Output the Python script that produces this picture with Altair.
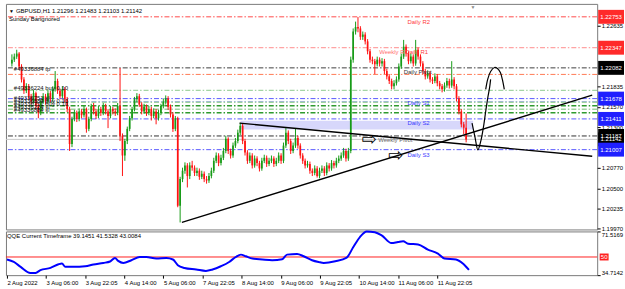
import json
import altair as alt
import pandas as pd

FONT = "Liberation Sans"

# ---------------- data: GBPUSD H1 candles (bar index 0..189) ----------------
first_open = 1.2214
close = [
    1.2219, 1.2223, 1.2227, 1.2210, 1.2193, 1.2178, 1.2184, 1.2171, 1.2164, 1.2175,
    1.2158, 1.2149, 1.2164, 1.2171, 1.2164, 1.2175, 1.2167, 1.2180, 1.2191, 1.2178,
    1.2171, 1.2180, 1.2167, 1.2154, 1.2108, 1.2141, 1.2149, 1.2141, 1.2151, 1.2146,
    1.2154, 1.2128, 1.2141, 1.2158, 1.2151, 1.2145, 1.2154, 1.2149, 1.2158, 1.2151,
    1.2145, 1.2154, 1.2151, 1.2149, 1.2158, 1.2119, 1.2093, 1.2112, 1.2128, 1.2142,
    1.2154, 1.2167, 1.2171, 1.2160, 1.2151, 1.2157, 1.2149, 1.2154, 1.2145, 1.2151,
    1.2142, 1.2149, 1.2158, 1.2164, 1.2168, 1.2157, 1.2147, 1.2128, 1.2142, 1.2027,
    1.2062, 1.2073, 1.2080, 1.2066, 1.2080, 1.2077, 1.2070, 1.2073, 1.2065, 1.2069,
    1.2062, 1.2060, 1.2066, 1.2073, 1.2086, 1.2093, 1.2083, 1.2090, 1.2099, 1.2115,
    1.2099, 1.2093, 1.2106, 1.2112, 1.2123, 1.2132, 1.2112, 1.2097, 1.2086, 1.2093,
    1.2080, 1.2089, 1.2083, 1.2076, 1.2086, 1.2090, 1.2082, 1.2086, 1.2089, 1.2082,
    1.2086, 1.2093, 1.2086, 1.2106, 1.2123, 1.2112, 1.2099, 1.2106, 1.2116, 1.2106,
    1.2093, 1.2086, 1.2080, 1.2082, 1.2073, 1.2070, 1.2076, 1.2066, 1.2073, 1.2076,
    1.2070, 1.2080, 1.2076, 1.2083, 1.2080, 1.2086, 1.2089, 1.2093, 1.2099, 1.2089,
    1.2099, 1.2219, 1.2256, 1.2262, 1.2260, 1.2249, 1.2252, 1.2243, 1.2230, 1.2219,
    1.2217, 1.2213, 1.2219, 1.2214, 1.2217, 1.2204, 1.2197, 1.2191, 1.2184, 1.2188,
    1.2193, 1.2210, 1.2223, 1.2236, 1.2227, 1.2217, 1.2223, 1.2214, 1.2232, 1.2223,
    1.2214, 1.2204, 1.2197, 1.2201, 1.2193, 1.2191, 1.2197, 1.2188, 1.2184, 1.2180,
    1.2185, 1.2191, 1.2185, 1.2193, 1.2184, 1.2168, 1.2151, 1.2134, 1.21296, 1.21142,
]
high = [
    1.2226, 1.2227, 1.2232, 1.2229, 1.2213, 1.2196, 1.2188, 1.2187, 1.2174, 1.2179,
    1.2177, 1.2161, 1.2167, 1.2175, 1.2174, 1.2179, 1.2178, 1.2184, 1.2204, 1.2194,
    1.2181, 1.2184, 1.2183, 1.2170, 1.2157, 1.2144, 1.2153, 1.2152, 1.2155, 1.2154,
    1.2158, 1.2156, 1.2144, 1.2161, 1.2162, 1.2154, 1.2158, 1.2157, 1.2162, 1.2161,
    1.2154, 1.2158, 1.2157, 1.2155, 1.2162, 1.2208, 1.2122, 1.2115, 1.2131, 1.2145,
    1.2157, 1.2170, 1.2175, 1.2174, 1.2163, 1.2161, 1.2160, 1.2158, 1.2157, 1.2155,
    1.2154, 1.2153, 1.2161, 1.2168, 1.2172, 1.2171, 1.2160, 1.2150, 1.2145, 1.2144,
    1.2065, 1.2077, 1.2084, 1.2083, 1.2084, 1.2086, 1.2080, 1.2077, 1.2076, 1.2073,
    1.2072, 1.2066, 1.2070, 1.2077, 1.2090, 1.2097, 1.2096, 1.2094, 1.2103, 1.2119,
    1.2117, 1.2102, 1.2110, 1.2116, 1.2127, 1.2136, 1.2135, 1.2115, 1.2100, 1.2097,
    1.2096, 1.2093, 1.2092, 1.2086, 1.2090, 1.2094, 1.2093, 1.2090, 1.2093, 1.2092,
    1.2090, 1.2097, 1.2096, 1.2110, 1.2129, 1.2126, 1.2115, 1.2110, 1.2129, 1.2119,
    1.2109, 1.2096, 1.2089, 1.2086, 1.2085, 1.2076, 1.2080, 1.2079, 1.2077, 1.2080,
    1.2079, 1.2084, 1.2083, 1.2087, 1.2086, 1.2090, 1.2093, 1.2097, 1.2103, 1.2102,
    1.2103, 1.2223, 1.2260, 1.2269, 1.2275, 1.2263, 1.2256, 1.2255, 1.2246, 1.2233,
    1.2223, 1.2220, 1.2223, 1.2222, 1.2221, 1.2220, 1.2207, 1.2200, 1.2194, 1.2192,
    1.2197, 1.2214, 1.2227, 1.2245, 1.2239, 1.2230, 1.2227, 1.2226, 1.2245, 1.2235,
    1.2226, 1.2217, 1.2207, 1.2205, 1.2204, 1.2196, 1.2201, 1.2200, 1.2191, 1.2187,
    1.2189, 1.2195, 1.2194, 1.2217, 1.2196, 1.2187, 1.2171, 1.2154, 1.2137, 1.21483,
]
low = [
    1.2210, 1.2216, 1.2220, 1.2206, 1.2189, 1.2174, 1.2175, 1.2167, 1.2160, 1.2161,
    1.2154, 1.2142, 1.2146, 1.2161, 1.2160, 1.2161, 1.2163, 1.2164, 1.2177, 1.2174,
    1.2167, 1.2168, 1.2163, 1.2150, 1.2099, 1.2104, 1.2138, 1.2137, 1.2138, 1.2142,
    1.2143, 1.2123, 1.2125, 1.2138, 1.2147, 1.2141, 1.2142, 1.2145, 1.2146, 1.2147,
    1.2129, 1.2142, 1.2147, 1.2145, 1.2146, 1.2112, 1.2066, 1.2086, 1.2108, 1.2125,
    1.2139, 1.2151, 1.2163, 1.2157, 1.2147, 1.2148, 1.2145, 1.2146, 1.2139, 1.2142,
    1.2134, 1.2139, 1.2146, 1.2155, 1.2160, 1.2153, 1.2143, 1.2124, 1.2125, 1.2025,
    1.2005, 1.2058, 1.2069, 1.2051, 1.2062, 1.2073, 1.2066, 1.2066, 1.2061, 1.2062,
    1.2058, 1.2056, 1.2057, 1.2063, 1.2070, 1.2083, 1.2079, 1.2080, 1.2087, 1.2096,
    1.2095, 1.2089, 1.2090, 1.2103, 1.2109, 1.2120, 1.2108, 1.2093, 1.2082, 1.2083,
    1.2076, 1.2077, 1.2079, 1.2072, 1.2073, 1.2083, 1.2078, 1.2079, 1.2083, 1.2078,
    1.2079, 1.2083, 1.2082, 1.2083, 1.2103, 1.2108, 1.2095, 1.2096, 1.2103, 1.2102,
    1.2089, 1.2082, 1.2076, 1.2077, 1.2069, 1.2066, 1.2067, 1.2064, 1.2063, 1.2070,
    1.2066, 1.2067, 1.2072, 1.2073, 1.2076, 1.2077, 1.2083, 1.2086, 1.2090, 1.2085,
    1.2086, 1.2096, 1.2215, 1.2252, 1.2255, 1.2245, 1.2245, 1.2239, 1.2226, 1.2215,
    1.2213, 1.2200, 1.2210, 1.2210, 1.2210, 1.2200, 1.2193, 1.2187, 1.2180, 1.2180,
    1.2185, 1.2190, 1.2207, 1.2220, 1.2223, 1.2213, 1.2214, 1.2210, 1.2211, 1.2219,
    1.2210, 1.2200, 1.2193, 1.2194, 1.2189, 1.2187, 1.2188, 1.2184, 1.2180, 1.2176,
    1.2177, 1.2182, 1.2181, 1.2182, 1.2180, 1.2164, 1.2147, 1.2130, 1.2121, 1.21103,
]

# price-axis tick labels
price_ticks = [1.22635, 1.21835, 1.21570, 1.21300, 1.20770, 1.20500, 1.20235, 1.19970]

# time axis
date_ticks = [0, 16, 32, 48, 64, 80, 96, 112, 128, 144, 160, 176]
date_labels = ["2 Aug 2022", "3 Aug 06:00", "3 Aug 22:05", "4 Aug 14:00", "5 Aug 06:00",
               "7 Aug 22:05", "8 Aug 14:00", "9 Aug 06:00", "9 Aug 22:05", "10 Aug 14:00",
               "11 Aug 06:00", "11 Aug 22:05"]

# pivot / order levels
level_names = ["Daily R2", "R1", "Daily Pivot", "tp", "buy", "Daily S1", "S1b",
               "g1", "g2", "g3", "g4", "Daily S2", "Weekly Pivot", "Bid", "Daily S3"]
level_prices = [1.22753, 1.22347, 1.22082, 1.21996, 1.21787, 1.21678, 1.21640,
                1.21630, 1.21584, 1.21539, 1.21493, 1.21411, 1.21187, 1.21142, 1.21007]

# price tags on the right scale
tag_prices = [1.22753, 1.22347, 1.22082, 1.21678, 1.21411, 1.21187, 1.21142, 1.21007]
tag_texts = ["1.22753", "1.22347", "1.22082", "1.21678", "1.21411", "1.21187", "1.21142", "1.21007"]
tag_kind = ["r", "r", "k", "b", "b", "k", "k", "b"]

# level captions
cap_texts = ["Daily R2", "Weekly R1", "Daily R1", "Daily Pivot", "Daily S1", "Daily S2",
             "Weekly Pivot", "Daily S3"]
cap_idx = [164.6, 152.8, 163.8, 163.0, 164.6, 164.6, 152.4, 164.6]
cap_prices = [1.22688, 1.22296, 1.22296, 1.22022, 1.21617, 1.21356, 1.21134, 1.20938]
cap_kind = ["r", "r2", "r", "k", "b", "b", "g", "b"]

# order labels on the left
ord_texts = ["#49336884 tp", "#49336224 buy 0.10", "#49336751 sl", "#49336884 buy 0.10",
             "#49336751 buy 0.10", "#49336224 sl", "#49336884 sl"]
ord_prices = [1.22061, 1.21813, 1.21682, 1.21643, 1.21604, 1.21565, 1.21525]

# trend lines and hand-drawn projection
trend_id = ["up", "up", "down", "down"]
trend_idx = [70.73, 241.46, 94.72, 241.46]
trend_p = [1.20050, 1.21723, 1.21356, 1.20920]
hand_id = ["v"] * 9 + ["arch"] * 8
hand_idx = [191.46, 192.68, 193.90, 195.12, 196.34, 197.15, 197.97, 198.78, 199.19,
            197.15, 197.97, 199.19, 200.81, 202.03, 203.25, 204.07, 204.88]
hand_p = [1.21356, 1.21173, 1.21003, 1.21121, 1.21330, 1.21512, 1.21682, 1.21826, 1.21930,
          1.21800, 1.21930, 1.22035, 1.22087, 1.22074, 1.22022, 1.21930, 1.21800]
arrow_idx = [148.6, 159.6]
arrow_p = [1.21134, 1.20925]

# S2 zone
zone = {"i0": [95.1], "i1": [191.9], "p0": [1.21388], "p1": [1.21271]}

# QQE indicator line
qqe_idx = [0, 2.8, 5.6, 9.6, 11.7, 13.7, 17.8, 21.1, 22.5, 23.9, 27.2, 32.0, 35.4, 39.4, 42.2,
           44.2, 45.5, 47.6, 50.9, 54.3, 57.0, 61.1, 65.2, 67.9, 69.9, 72.6, 77.4, 81.4, 84.1,
           87.5, 90.9, 93.6, 95.7, 97.7, 100.4, 104.5, 108.5, 112.6, 114.6, 118.7, 121.4, 124.8,
           127.5, 129.6, 134.3, 139.0, 141.7, 144.4, 147.2, 150.5, 153.3, 157.3, 160.0, 162.1,
           164.1, 168.2, 172.2, 176.3, 179.0, 183.7, 186.5, 189.0]
qqe_val = [47.9, 45.8, 41.7, 36.6, 36.6, 38.9, 40.8, 43.9, 44.5, 41.7, 41.7, 42.2, 43.7, 45.0,
           46.2, 49.2, 46.7, 45.0, 47.3, 50.0, 50.0, 48.7, 49.2, 47.9, 43.1, 40.8, 39.5, 38.3,
           39.5, 42.2, 45.8, 50.0, 52.0, 50.6, 48.7, 47.9, 47.3, 48.1, 52.0, 52.5, 50.6, 47.3,
           45.8, 45.0, 46.4, 49.5, 58.4, 66.8, 71.5, 70.9, 68.2, 61.7, 62.6, 63.2, 61.2, 60.6,
           56.2, 52.9, 48.7, 47.9, 44.5, 39.1]
qqe_min, qqe_max, qqe_level = 34.7142, 71.5169, 50

title_text = "GBPUSD,H1  1.21296 1.21483 1.21103 1.21142"
sub_text = "Sunday Barignored"
qqe_title = "QQE Current Timeframe 39.1451 41.5328 43.0084"

# ---------------- styles ----------------
GREEN, RED = "#179b17", "#ff1212"
DD = [5, 2, 1.5, 2]
level_style = {
    "Daily R2": ("#ff4a4a", DD, 1), "R1": ("#ff8c8c", DD, 1), "Daily Pivot": ("#404040", DD, 1),
    "tp": ("#ff7a55", DD, 1), "buy": ("#8cc98c", DD, 1), "Daily S1": ("#5a5aff", DD, 1),
    "S1b": ("#a0a0ff", DD, 1), "g1": ("#9fd29f", DD, 1.6), "g2": ("#2f9a2f", DD, 1.6),
    "g3": ("#9fd29f", DD, 1.6), "g4": ("#2f9a2f", DD, 1.6), "Daily S2": ("#5a5aff", DD, 1),
    "Weekly Pivot": ("#303030", DD, 1), "Bid": ("#c8c8c8", None, 1), "Daily S3": ("#5a5aff", DD, 1),
}
tag_col = {"r": "#ff2a2a", "b": "#1f1fff", "k": "#000000"}
cap_col = {"r": "#ff3a3a", "r2": "#ff7070", "k": "#333333", "b": "#3b3bff", "g": "#6a6a6a"}

W, H_MAIN, H_QQE = 595, 227, 44
XS = alt.Scale(domain=[-0.407, 241.46], nice=False, zero=False)
YS = alt.Scale(domain=[1.19958, 1.22923], nice=False, zero=False)
QS = alt.Scale(domain=[qqe_min, qqe_max], nice=False, zero=False)

ax_main = alt.Axis(orient="right", values=price_ticks, format=".5f", labelFont=FONT,
                   labelFontSize=6, labelColor="black", tickSize=3, tickColor="black",
                   labelPadding=1, domain=False, grid=False, labelOverlap=False)
ax_date = alt.Axis(values=date_ticks,
                   labelExpr=f"{json.dumps(date_labels)}[round(datum.value/16)]",
                   labelAlign="left", labelBaseline="top", labelFont=FONT, labelFontSize=6,
                   labelColor="black", tickSize=3, tickColor="black", labelPadding=1,
                   domain=False, grid=False, labelFlush=False, labelOverlap=False)
ax_qqe = alt.Axis(orient="right", values=[qqe_min, qqe_max],
                  labelExpr="format(datum.value, '.4f')", labelFlush=True, labelFont=FONT,
                  labelFontSize=6, labelColor="black", tickSize=3, tickColor="black",
                  labelPadding=1, domain=False, grid=False, labelOverlap=False)


def X(f):
    return alt.X(f, type="quantitative", scale=XS, axis=None, title=None)


def Y(f):
    return alt.Y(f, type="quantitative", scale=YS, axis=ax_main, title=None)


def XQ(f):
    return alt.X(f, type="quantitative", scale=XS, axis=ax_date, title=None)


def YQ(f):
    return alt.Y(f, type="quantitative", scale=QS, axis=ax_qqe, title=None)


# ---------------- main price panel ----------------
opens = [first_open] + close[:-1]
cdf = pd.DataFrame({"i": list(range(len(close))), "o": opens, "h": high, "l": low, "c": close})
col = alt.condition("datum.c >= datum.o", alt.value(GREEN), alt.value(RED))

layers = []
layers.append(alt.Chart(pd.DataFrame(zone)).mark_rect(color="#d7d7fb").encode(
    x=X("i0"), x2="i1", y=Y("p0"), y2="p1"))

for name, price in zip(level_names, level_prices):
    c_, dash, sw = level_style[name]
    kw = dict(color=c_, strokeWidth=sw)
    if dash:
        kw["strokeDash"] = dash
    layers.append(alt.Chart(pd.DataFrame({"p": [price]})).mark_rule(**kw).encode(y=Y("p")))

layers.append(alt.Chart(cdf).mark_rule(strokeWidth=1).encode(x=X("i"), y=Y("l"), y2="h", color=col))
layers.append(alt.Chart(cdf).mark_bar(size=1.7).encode(x=X("i"), y=Y("o"), y2="c", color=col))

cap_df = pd.DataFrame({"i": cap_idx, "p": cap_prices, "t": cap_texts,
                       "col": [cap_col[k] for k in cap_kind]})
layers.append(alt.Chart(cap_df).mark_text(align="left", baseline="middle", font=FONT, fontSize=6).encode(
    x=X("i"), y=Y("p"), text="t:N", color=alt.Color("col:N", scale=None)))

ord_df = pd.DataFrame({"i": [0.8] * len(ord_texts), "p": ord_prices, "t": ord_texts})
layers.append(alt.Chart(ord_df).mark_text(align="left", baseline="middle", font=FONT, fontSize=6,
                                          color="#111111").encode(x=X("i"), y=Y("p"), text="t:N"))

tr_df = pd.DataFrame({"id": trend_id, "i": trend_idx, "p": trend_p, "k": list(range(len(trend_id)))})
layers.append(alt.Chart(tr_df).mark_line(color="black", strokeWidth=1.4, clip=True).encode(
    x=X("i"), y=Y("p"), detail="id:N", order="k:Q"))

hd_df = pd.DataFrame({"id": hand_id, "i": hand_idx, "p": hand_p, "k": list(range(len(hand_id)))})
layers.append(alt.Chart(hd_df).mark_line(color="black", strokeWidth=1.2,
                                         interpolate="catmull-rom").encode(
    x=X("i"), y=Y("p"), detail="id:N", order="k:Q"))

ar_df = pd.DataFrame({"i": arrow_idx, "p": arrow_p, "t": ["⇨", "⇨"]})
layers.append(alt.Chart(ar_df).mark_text(font="DejaVu Sans", fontSize=18, color="black",
                                         baseline="middle").encode(x=X("i"), y=Y("p"), text="t:N"))

BOX = "M-1.857,-1L1.857,-1L1.857,1L-1.857,1Z"
tag_df = pd.DataFrame({"p": tag_prices, "t": tag_texts, "bg": [tag_col[k] for k in tag_kind]})
layers.append(alt.Chart(tag_df).mark_point(shape=BOX, size=196, filled=True, opacity=1,
                                           strokeWidth=0).encode(
    x=alt.value(609), y=Y("p"), fill=alt.Fill("bg:N", scale=None)))
layers.append(alt.Chart(tag_df).mark_text(font=FONT, fontSize=6, color="white", align="center",
                                          baseline="middle").encode(
    x=alt.value(609), y=Y("p"), text="t:N"))

ttl = pd.DataFrame({"t": [title_text], "s": [sub_text]})
layers.append(alt.Chart(ttl).mark_text(text="▼", fontSize=5, color="black", align="left").encode(
    x=alt.value(3), y=alt.value(7)))
layers.append(alt.Chart(ttl).mark_text(font=FONT, fontSize=6, color="black", align="left").encode(
    x=alt.value(10), y=alt.value(7), text="t:N"))
layers.append(alt.Chart(ttl).mark_text(font=FONT, fontSize=6, color="black", align="left").encode(
    x=alt.value(3), y=alt.value(15), text="s:N"))
layers.append(alt.Chart(ttl).mark_text(text="▼", fontSize=5, color="#888888").encode(
    x=alt.value(470), y=alt.value(3)))

main = alt.layer(*layers).properties(width=W, height=H_MAIN)

# ---------------- QQE panel ----------------
qdf = pd.DataFrame({"i": qqe_idx, "v": qqe_val})
q_layers = [
    alt.Chart(pd.DataFrame({"v": [qqe_level]})).mark_rule(color="#ff2020", strokeWidth=1).encode(y=YQ("v")),
    alt.Chart(qdf).mark_line(color="#0000ff", strokeWidth=2, interpolate="monotone").encode(
        x=XQ("i"), y=YQ("v")),
    alt.Chart(pd.DataFrame({"v": [qqe_level], "t": ["50"]})).mark_point(
        shape="M-1.286,-1L1.286,-1L1.286,1L-1.286,1Z", size=49, filled=True, opacity=1,
        strokeWidth=0, color="#ff2020").encode(x=alt.value(602), y=YQ("v")),
    alt.Chart(pd.DataFrame({"v": [qqe_level], "t": ["50"]})).mark_text(
        font=FONT, fontSize=6, color="white", align="center").encode(
        x=alt.value(602), y=YQ("v"), text="t:N"),
    alt.Chart(pd.DataFrame({"t": [qqe_title]})).mark_text(
        font=FONT, fontSize=6, color="black", align="left").encode(
        x=alt.value(1), y=alt.value(5), text="t:N"),
]
qqe = alt.layer(*q_layers).properties(width=W, height=H_QQE)

chart = alt.vconcat(main, qqe, spacing=2, bounds="flush").properties(
    padding={"left": 2, "top": 2, "right": 0, "bottom": 0},
).configure(background="white").configure_view(stroke="#7a7a7a", strokeWidth=1)

chart.save("out.html", embed_options={"renderer": "svg", "actions": False})
